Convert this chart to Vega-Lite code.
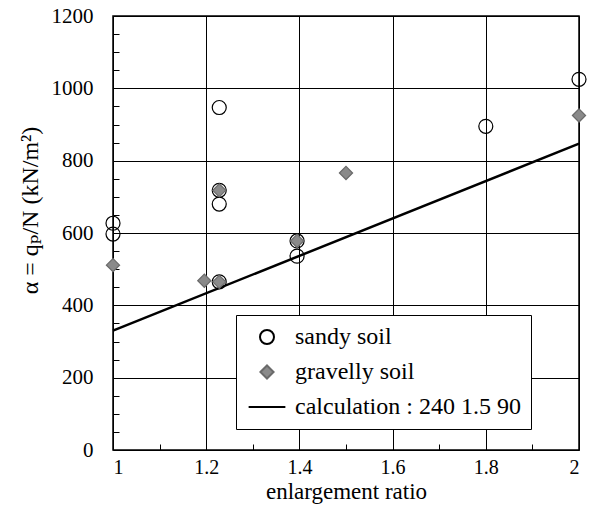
{
  "$schema": "https://vega.github.io/schema/vega-lite/v6.json",
  "autosize": "none",
  "width": 466,
  "height": 434,
  "padding": {"left": 113, "top": 16, "right": 12, "bottom": 70},
  "background": "white",
  "config": {
    "view": {"stroke": "black", "strokeWidth": 1.5},
    "font": "'Liberation Serif', 'DejaVu Serif', serif",
    "axis": {"labelFont": "'Liberation Serif', 'DejaVu Serif', serif", "titleFont": "'Liberation Serif', 'DejaVu Serif', serif", "labelColor": "black", "titleColor": "black", "titleFontWeight": "normal"},
    "legend": {"labelFont": "'Liberation Serif', 'DejaVu Serif', serif"}
  },
  "datasets": {
    "obs": [
      {"ratio": 1.0, "alpha": 627, "series": "sandy soil"},
      {"ratio": 1.0, "alpha": 597, "series": "sandy soil"},
      {"ratio": 1.228, "alpha": 947, "series": "sandy soil"},
      {"ratio": 1.228, "alpha": 718, "series": "sandy soil"},
      {"ratio": 1.228, "alpha": 680, "series": "sandy soil"},
      {"ratio": 1.228, "alpha": 465, "series": "sandy soil"},
      {"ratio": 1.395, "alpha": 578, "series": "sandy soil"},
      {"ratio": 1.395, "alpha": 536, "series": "sandy soil"},
      {"ratio": 1.8, "alpha": 895, "series": "sandy soil"},
      {"ratio": 2.0, "alpha": 1025, "series": "sandy soil"},
      {"ratio": 1.0, "alpha": 511, "series": "gravelly soil"},
      {"ratio": 1.196, "alpha": 468, "series": "gravelly soil"},
      {"ratio": 1.228, "alpha": 465, "series": "gravelly soil"},
      {"ratio": 1.228, "alpha": 718, "series": "gravelly soil"},
      {"ratio": 1.395, "alpha": 578, "series": "gravelly soil"},
      {"ratio": 1.5, "alpha": 766, "series": "gravelly soil"},
      {"ratio": 2.0, "alpha": 925, "series": "gravelly soil"}
    ],
    "calc": [
      {"ratio": 1.0, "alpha": 330, "series": "calculation : 240 1.5 90"},
      {"ratio": 2.0, "alpha": 847, "series": "calculation : 240 1.5 90"}
    ],
    "minorx": [{"ratio": 1.5}],
    "minory": [{"alpha": 600}]
  },
  "resolve": {"axis": {"x": "independent", "y": "independent"}},
  "layer": [
    {
      "data": {"name": "calc"},
      "mark": {"type": "line", "color": "black", "strokeWidth": 2.5},
      "encoding": {
        "x": {"field": "ratio", "type": "quantitative", "scale": {"domain": [1, 2], "nice": false, "zero": false},
              "axis": {"orient": "bottom", "values": [1, 1.2, 1.4, 1.6, 1.8, 2], "format": "~g", "grid": true, "gridColor": "black", "gridWidth": 1, "gridOpacity": 1, "domain": false, "ticks": false, "labelFontSize": 20, "labelPadding": 7, "title": "enlargement ratio", "titleFontSize": 23, "titleY": 48, "titleBaseline": "alphabetic"}},
        "y": {"field": "alpha", "type": "quantitative", "scale": {"domain": [0, 1200], "nice": false},
              "axis": {"orient": "left", "values": [0, 200, 400, 600, 800, 1000, 1200], "format": "d", "grid": true, "gridColor": "black", "gridWidth": 1, "gridOpacity": 1, "domain": false, "ticks": false, "labelFontSize": 21, "labelPadding": 20, "title": "α = qₚ/N  (kN/m²)", "titleFontSize": 24, "titleX": -83, "titleY": 194, "titleAlign": "center", "titleBaseline": "middle", "titleAngle": -90}}
      }
    },
    {
      "data": {"name": "minorx"},
      "mark": {"type": "point", "opacity": 0},
      "encoding": {
        "x": {"field": "ratio", "type": "quantitative", "scale": {"domain": [1, 2], "nice": false, "zero": false},
              "axis": {"orient": "bottom", "values": [1.1, 1.3, 1.5, 1.7, 1.9], "grid": false, "domain": false, "labels": false, "ticks": true, "tickSize": -6, "tickColor": "black", "tickWidth": 1, "title": null}},
        "y": {"field": "alpha", "type": "quantitative", "scale": {"domain": [0, 1200], "nice": false},
              "axis": {"orient": "left", "values": [50, 100, 150, 250, 300, 350, 450, 500, 550, 650, 700, 750, 850, 900, 950, 1050, 1100, 1150], "grid": false, "domain": false, "labels": false, "ticks": true, "tickSize": -6, "tickColor": "black", "tickWidth": 1, "title": null}}
      }
    },
    {
      "data": {"name": "obs"},
      "mark": {"type": "point", "opacity": 1, "strokeWidth": 1.2},
      "encoding": {
        "x": {"field": "ratio", "type": "quantitative", "scale": {"domain": [1, 2], "nice": false, "zero": false}, "axis": null},
        "y": {"field": "alpha", "type": "quantitative", "scale": {"domain": [0, 1200], "nice": false}, "axis": null},
        "shape": {"field": "series", "type": "nominal",
                  "scale": {"domain": ["sandy soil", "gravelly soil", "calculation : 240 1.5 90"], "range": ["circle", "diamond", "M-3,0H3"]},
                  "legend": {"orient": "none", "legendX": 123, "legendY": 299, "title": null, "strokeColor": "black", "fillColor": "white", "padding": 10, "symbolOffset": 9, "labelFontSize": 24, "labelOffset": 16, "labelLimit": 400, "rowPadding": 11, "symbolStrokeWidth": 2, "labelColor": "black"}},
        "fill": {"field": "series", "type": "nominal",
                 "scale": {"domain": ["sandy soil", "gravelly soil", "calculation : 240 1.5 90"], "range": ["transparent", "#8a8a8a", "black"]}},
        "stroke": {"field": "series", "type": "nominal",
                   "scale": {"domain": ["sandy soil", "gravelly soil", "calculation : 240 1.5 90"], "range": ["black", "#6a6a6a", "black"]}},
        "size": {"field": "series", "type": "nominal",
                 "scale": {"domain": ["sandy soil", "gravelly soil", "calculation : 240 1.5 90"], "range": [196, 150, 120]}}
      }
    }
  ]
}
